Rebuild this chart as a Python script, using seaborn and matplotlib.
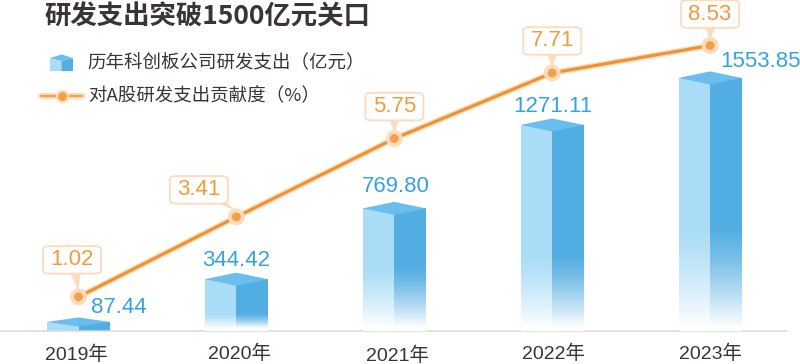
import numpy as np
import pandas as pd
import matplotlib
matplotlib.use('Agg')
import matplotlib.pyplot as plt
import matplotlib.patheffects as pe
from matplotlib.patches import Polygon
from matplotlib.transforms import ScaledTranslation
import seaborn as sns

# Datos
years = ['2019年', '2020年', '2021年', '2022年', '2023年']
spending = [87.44, 344.42, 769.80, 1271.11, 1553.85]
share = [1.02, 3.41, 5.75, 7.71, 8.53]
spending_labels = ['87.44', '344.42', '769.80', '1271.11', '1553.85']
share_labels = ['1.02', '3.41', '5.75', '7.71', '8.53']
faces = ['left', 'right']

title = '研发支出突破1500亿元关口'
legend_bar = '历年科创板公司研发支出（亿元）'
legend_line = '对A股研发支出贡献度（%）'

# Estilos (pixeles de la imagen)
LIGHT = '#A9DCF6'
DARK = '#52ADE2'
TOP = '#6ABEED'
ORANGE = '#F0922F'
ORANGE_TEXT = '#F29A3E'
HALO = '#FBDCBC'
BLUE_TEXT = '#36A3DF'
DARK_TEXT = '#3A3432'
CJK = ['Noto Sans CJK SC', 'DejaVu Sans']
NUM = ['Liberation Sans', 'Noto Sans CJK SC']

top_depth = [4.5, 6.5, 6.5, 6.5, 6.5]
fade_top = [0, 141, 430, 496, 670]
label_offset = [(-2, 1), (3, 0), (3, 2), (1, 0), (0, 0)]
box_offset = [(-6.5, 37), (-37.5, 27), (0, 32), (0, 32), (0, 31.5)]
pointer_base = [(-3, 23), (-15, 14), (0, 19), (0, 19), (0, 18)]
value_offset = [(40, 4), (0, 8), (2, 11), (1, 8), (50, 6)]

sns.set_theme(style='white')
plt.rcParams['font.family'] = CJK

fig = plt.figure(figsize=(8.0, 3.64), dpi=100)
ax = fig.add_axes([0, 33 / 364, 1, 331 / 364])

# Barras: dos caras por categoria
df_bars = pd.DataFrame({
    'year': years * 2,
    'value': spending * 2,
    'face': [faces[0]] * 5 + [faces[1]] * 5,
})
sns.barplot(data=df_bars, x='year', y='value', hue='face', order=years, hue_order=faces,
            palette=[LIGHT, DARK], width=0.4, gap=0, legend=False, ax=ax,
            saturation=1, linewidth=0, zorder=2)

xlim = (-78.5 / 157.9, (800 - 78.5) / 157.9)
ylim = (33, 2022)
ax.set_xlim(*xlim)
ax.set_ylim(*ylim)
ax.set_xlabel('')
ax.set_ylabel('')
ax.set_yticks([])
sns.despine(ax=ax, left=True)
ax.spines['bottom'].set_color('#DADADA')
ax.spines['bottom'].set_linewidth(1.1)
ax.spines['bottom'].set_bounds(xlim[0], (787 - 78.5) / 157.9)
ax.tick_params(axis='x', length=0, pad=10)
ax.set_xticks(range(len(years)))
ax.set_xticklabels(years, fontsize=14, family=NUM, color=DARK_TEXT)

# Pequeños ajustes de las etiquetas del eje
for lab, (dx, dy) in zip(ax.get_xticklabels(), label_offset):
    lab.set_transform(lab.get_transform() + ScaledTranslation(dx / 100, -dy / 100, fig.dpi_scale_trans))

# Degradado a blanco en la base de las barras
fade = np.ones((64, 2, 4))
fade[:, :, 3] = np.linspace(1, 0, 64)[:, None] ** 1.3
for i, f in enumerate(fade_top):
    if f:
        ax.imshow(fade, extent=(i - 0.2, i + 0.2, 51, f), origin='lower', aspect='auto', zorder=3)
        ax.bar(i, 51 - ylim[0], bottom=ylim[0], width=0.4, color='white', linewidth=0, zorder=3)
ax.set_xlim(*xlim)
ax.set_ylim(*ylim)

# Cara superior de cada barra
fig.canvas.draw()
to_px = ax.transData.transform
for i, (v, d) in enumerate(zip(spending, top_depth)):
    x0, y0 = to_px((i - 0.2, v))
    x1, _ = to_px((i + 0.2, v))
    xc = (x0 + x1) / 2
    pts = [(x0, y0), (xc, y0 + d), (x1, y0), (xc, y0 - d)]
    ax.add_patch(Polygon(pts, closed=True, transform=None, facecolor=TOP, edgecolor='none', zorder=4))
    ax.annotate(spending_labels[i], xy=(i, v), xytext=(value_offset[i][0] * 0.72, value_offset[i][1] * 0.72),
                textcoords='offset points', ha='center', va='bottom', fontsize=16,
                family=NUM, color=BLUE_TEXT, zorder=5)

# Linea en el segundo eje
ax2 = ax.twinx()
ax2.set_position(ax.get_position())
df_line = pd.DataFrame({'pos': np.arange(len(years)), 'share': share})
sns.lineplot(data=df_line, x='pos', y='share', ax=ax2, color=ORANGE, linewidth=2.2, marker='o',
             markersize=8, markerfacecolor='#F4A04B', markeredgecolor=HALO, markeredgewidth=1.6,
             path_effects=[pe.withStroke(linewidth=4.2, foreground=HALO)], zorder=6)
ax2.set_xlim(*xlim)
ax2.set_ylim(0, 9.89)
ax2.set_ylabel('')
ax2.set_yticks([])
ax2.patch.set_alpha(0)
sns.despine(ax=ax2, left=True, right=True, bottom=True)

# Etiquetas de porcentaje con su triangulo
to_px2 = ax2.transData.transform
for i, (s, lab, (dx, dy)) in enumerate(zip(share, share_labels, box_offset)):
    tx, ty = to_px2((i, s))
    bx, by = pointer_base[i]
    tri = [(tx, ty + 6), (tx + bx - 5, ty + by), (tx + bx + 5, ty + by)]
    ax2.add_patch(Polygon(tri, closed=True, transform=None, facecolor=HALO, edgecolor='none', zorder=6.5))
    ax2.annotate(lab, xy=(i, s), xytext=(dx * 0.72, dy * 0.72), textcoords='offset points',
                 ha='center', va='center', fontsize=16, family=NUM, color=ORANGE_TEXT, zorder=7,
                 bbox=dict(boxstyle='round,pad=0.33,rounding_size=0.3', mutation_aspect=0.45,
                           facecolor='white', edgecolor=HALO, linewidth=1.3))

# Titulo y leyenda
fig.text(44 / 800, 1 - 17 / 364, title, fontsize=19, fontweight='bold', color=DARK_TEXT,
         ha='left', va='center')
fig.text(87 / 800, 1 - 63 / 364, legend_bar, fontsize=13.3, color=DARK_TEXT, ha='left', va='center')
fig.text(88 / 800, 1 - 96 / 364, legend_line, fontsize=13.3, color=DARK_TEXT, ha='left', va='center')

# Icono del cubo
def px(x, y):
    return (x / 800, 1 - y / 364)

for pts, col in [
    ([px(50, 58), px(61.5, 61), px(61.5, 71), px(50, 71)], LIGHT),
    ([px(61.5, 61), px(73, 58), px(73, 71), px(61.5, 71)], DARK),
    ([px(50, 58), px(61.5, 54.5), px(73, 58), px(61.5, 61)], TOP),
]:
    fig.add_artist(Polygon(pts, closed=True, transform=fig.transFigure, facecolor=col, edgecolor='none'))

# Icono de la linea
icon = plt.Line2D([41 / 800, 82 / 800], [1 - 96 / 364] * 2, transform=fig.transFigure, color='#F4A04B',
                  linewidth=1.6, path_effects=[pe.withStroke(linewidth=4.5, foreground=HALO)])
fig.add_artist(icon)
dot = plt.Line2D([61.5 / 800], [1 - 96 / 364], transform=fig.transFigure, marker='o', markersize=8,
                 markerfacecolor='#F4A04B', markeredgecolor=HALO, markeredgewidth=1.6, linestyle='none')
fig.add_artist(dot)

fig.savefig('out.png', dpi=100, facecolor='white')
